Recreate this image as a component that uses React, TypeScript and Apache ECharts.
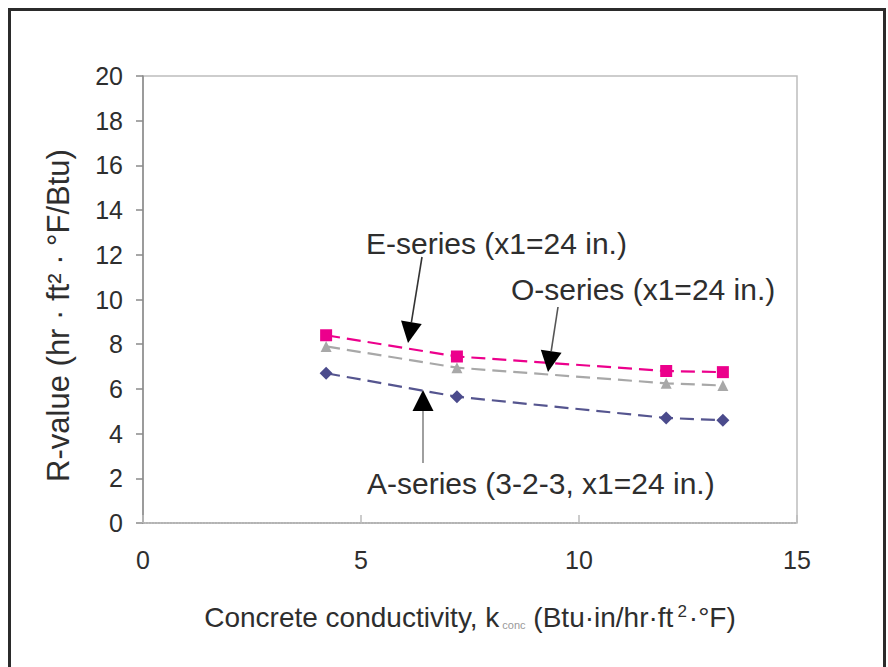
import React, { useEffect, useRef } from "react";
import * as echarts from "echarts";

// Concrete conductivity (Btu·in/hr·ft²·°F) at each tested mix
const conductivity = [4.2, 7.2, 12.0, 13.3];

// R-values (hr·ft²·°F/Btu) for each wall series
const eSeries = [8.4, 7.45, 6.8, 6.75];
const oSeries = [7.9, 6.95, 6.25, 6.15];
const aSeries = [6.7, 5.65, 4.7, 4.6];

const seriesNames = ["E-series (x1=24 in.)", "O-series (x1=24 in.)", "A-series (3-2-3, x1=24 in.)"];

const xTicks = [0, 5, 10, 15];
const yTicks = [0, 2, 4, 6, 8, 10, 12, 14, 16, 18, 20];

const FONT = '"Liberation Sans", Arial, sans-serif';
const INK = "#2e2e2e";

const pairs = (ys: number[]) => conductivity.map((x, i) => [x, ys[i]]);

// Straight arrow with a filled triangular head ending at (x2, y2)
function arrow(x1: number, y1: number, x2: number, y2: number, lineColor: string) {
  const head = 21;
  const half = 10.5;
  const dx = x2 - x1;
  const dy = y2 - y1;
  const len = Math.hypot(dx, dy);
  const ux = dx / len;
  const uy = dy / len;
  const bx = x2 - ux * head;
  const by = y2 - uy * head;
  const nx = -uy;
  const ny = ux;
  return [
    {
      type: "line",
      shape: { x1, y1, x2: bx, y2: by },
      style: { stroke: lineColor, lineWidth: 1.6 },
      z: 10,
    },
    {
      type: "polygon",
      shape: {
        points: [
          [x2, y2],
          [bx + nx * half, by + ny * half],
          [bx - nx * half, by - ny * half],
        ],
      },
      style: { fill: "#000" },
      z: 10,
    },
  ];
}

function label(text: string, x: number, y: number) {
  return {
    type: "text",
    x,
    y,
    z: 10,
    style: {
      text,
      font: `30px ${FONT}`,
      fill: INK,
      align: "left",
      verticalAlign: "middle",
    },
  };
}

export default function App() {
  const ref = useRef<HTMLDivElement>(null);

  useEffect(() => {
    if (!ref.current) return;
    const chart = echarts.init(ref.current, undefined, { renderer: "svg" });

    const lineStyle = (color: string) => ({ color, width: 2.2, type: [14, 7] as number[] });

    chart.setOption({
      animation: false,
      backgroundColor: "#fff",
      grid: {
        left: 143,
        top: 76,
        right: 91,
        bottom: 144,
        show: true,
        borderColor: "#bdbdbd",
        borderWidth: 1.5,
        backgroundColor: "transparent",
      },
      xAxis: {
        type: "value",
        min: xTicks[0],
        max: xTicks[xTicks.length - 1],
        interval: 5,
        name: "{t|Concrete conductivity, k}{s|conc}{t| (Btu·in/hr·ft}{p|2}{t|·°F)}",
        nameLocation: "middle",
        nameGap: 80,
        nameTextStyle: {
          rich: {
            t: { fontFamily: FONT, fontSize: 28, color: INK },
            s: { fontFamily: FONT, fontSize: 11, color: "#999", padding: [14, 0, 0, 3] },
            p: { fontFamily: FONT, fontSize: 17, color: INK, padding: [0, 2, 12, 4] },
          },
        },
        axisLine: { show: true, lineStyle: { color: "#aaa", width: 1.5, type: "dotted" } },
        axisTick: { show: true, inside: true, length: 8, lineStyle: { color: "#bbb", width: 1.5 } },
        splitLine: { show: false },
        axisLabel: { fontFamily: FONT, fontSize: 25, color: INK, margin: 24 },
      },
      yAxis: {
        type: "value",
        min: yTicks[0],
        max: yTicks[yTicks.length - 1],
        interval: 2,
        name: "R-value (hr · ft² · °F/Btu)",
        nameLocation: "middle",
        nameGap: 69,
        nameRotate: 90,
        nameTextStyle: { fontFamily: FONT, fontSize: 31, color: INK, padding: [0, 32, 0, 0] },
        axisLine: { show: true, lineStyle: { color: "#8a8a8a", width: 1.5 } },
        axisTick: { show: true, inside: false, length: 7, lineStyle: { color: "#8a8a8a", width: 1.5 } },
        splitLine: { show: false },
        axisLabel: { fontFamily: FONT, fontSize: 25, color: INK, margin: 20 },
      },
      series: [
        {
          name: seriesNames[2],
          type: "line",
          data: pairs(aSeries),
          symbol: "diamond",
          symbolSize: 13,
          itemStyle: { color: "#4b4b8c" },
          lineStyle: lineStyle("#55558f"),
          z: 3,
        },
        {
          name: seriesNames[1],
          type: "line",
          data: pairs(oSeries),
          symbol: "triangle",
          symbolSize: 11,
          itemStyle: { color: "#a8a8a8" },
          lineStyle: lineStyle("#a8a8a8"),
          z: 4,
        },
        {
          name: seriesNames[0],
          type: "line",
          data: pairs(eSeries),
          symbol: "rect",
          symbolSize: 12,
          itemStyle: { color: "#ec008c" },
          lineStyle: lineStyle("#ec008c"),
          z: 5,
        },
      ],
      graphic: [
        label(seriesNames[0], 366, 243),
        label(seriesNames[1], 511, 289),
        label(seriesNames[2], 367, 483),
        ...arrow(422, 257, 408, 343, "#333"),
        ...arrow(558, 307, 548, 372, "#555"),
        ...arrow(423, 463, 423, 390, "#888"),
      ],
    });

    return () => chart.dispose();
  }, []);

  return (
    <>
      <div
        style={{
          position: "fixed",
          left: 8,
          top: 8,
          width: 878,
          height: 700,
          boxSizing: "border-box",
          borderLeft: "3px solid #2b2b2b",
          borderTop: "3px solid #2b2b2b",
          borderRight: "3px solid #2b2b2b",
          pointerEvents: "none",
          zIndex: 2,
        }}
      />
      <div ref={ref} style={{ position: "fixed", left: 0, top: 0, width: 888, height: 667 }} />
    </>
  );
}
